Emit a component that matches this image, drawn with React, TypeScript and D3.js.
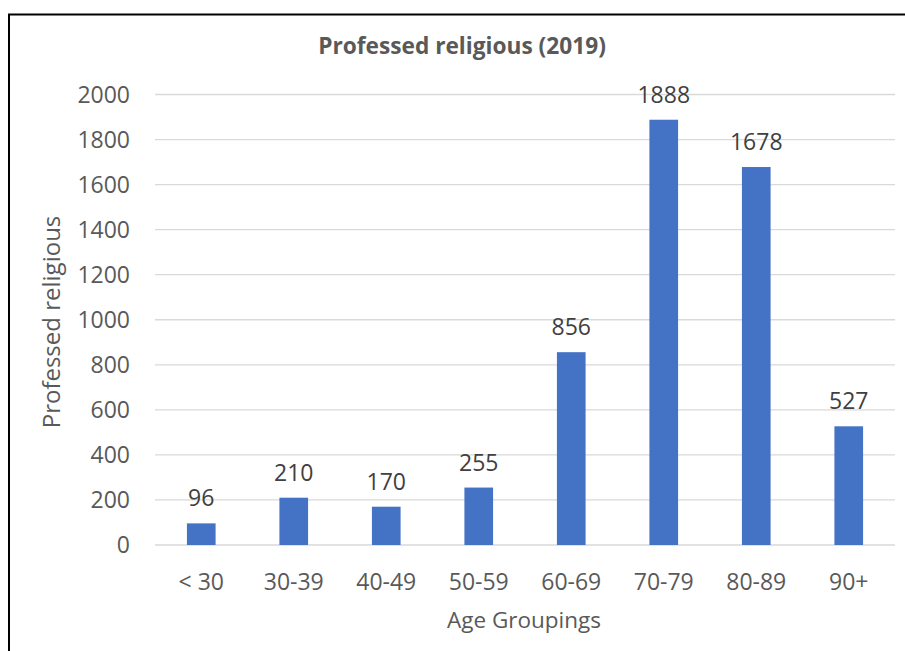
import React from "react";
import * as d3 from "d3";

const categories = ["< 30", "30-39", "40-49", "50-59", "60-69", "70-79", "80-89", "90+"];
const values = [96, 210, 170, 255, 856, 1888, 1678, 527];
const yTicks = [0, 200, 400, 600, 800, 1000, 1200, 1400, 1600, 1800, 2000];
const title = "Professed religious (2019)";
const xTitle = "Age Groupings";
const yTitle = "Professed religious";

const W = 905;
const H = 651;
const FONT = "'Open Sans', 'Noto Sans', sans-serif";

export default function App() {
  const x = d3.scaleBand<string>().domain(categories).range([155, 895]).paddingInner(0.69).paddingOuter(0.345);
  const y = d3.scaleLinear().domain([0, 2000]).range([545, 94.5]);

  return (
    <svg width={W} height={H} style={{ position: "absolute", left: 0, top: 0, background: "#fff" }}>
      <rect x={0} y={0} width={W} height={H} fill="#fff" />
      <rect x={9} y={14.5} width={W + 10} height={H + 10} fill="none" stroke="#000" strokeWidth={2} />
      <text x={462} y={54} textAnchor="middle" fontFamily={FONT} fontWeight="bold" fontSize={22.7} fill="#595959">
        {title}
      </text>
      {yTicks.map((t) => (
        <g key={t}>
          <line x1={155} x2={895} y1={y(t)} y2={y(t)} stroke="#d9d9d9" strokeWidth={1.3} />
          <text x={130} y={y(t)} dy="0.35em" textAnchor="end" fontFamily={FONT} fontSize={23} fill="#595959">
            {t}
          </text>
        </g>
      ))}
      {categories.map((c, i) => (
        <g key={c}>
          <rect x={x(c)} y={y(values[i])} width={x.bandwidth()} height={y(0) - y(values[i])} fill="#4472C4" />
          <text x={(x(c) as number) + x.bandwidth() / 2} y={y(values[i]) - 17} textAnchor="middle" fontFamily={FONT} fontSize={23} fill="#404040">
            {values[i]}
          </text>
          <text x={(x(c) as number) + x.bandwidth() / 2} y={590} textAnchor="middle" fontFamily={FONT} fontSize={23} fill="#595959">
            {c}
          </text>
        </g>
      ))}
      <text x={524} y={628} textAnchor="middle" fontFamily={FONT} fontSize={22.5} fill="#595959">
        {xTitle}
      </text>
      <text transform={`translate(60,322) rotate(-90)`} textAnchor="middle" fontFamily={FONT} fontSize={24} fill="#595959">
        {yTitle}
      </text>
    </svg>
  );
}
